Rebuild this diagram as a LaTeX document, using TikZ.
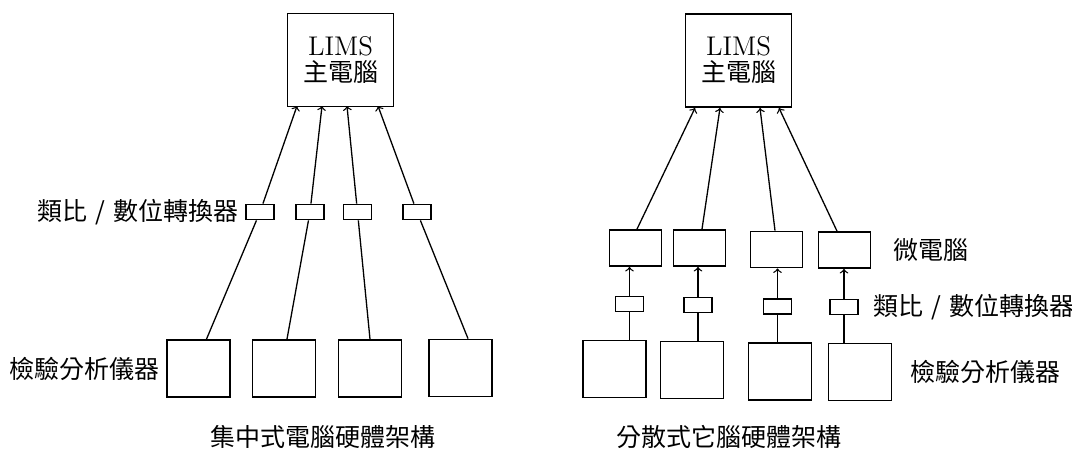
\documentclass[tikz,border=0pt]{standalone}
\usepackage{fontspec}
\newfontfamily\cjk{Noto Sans CJK TC}
\usepackage{tikz}
\usetikzlibrary{positioning}

\tikzset{
	box/.style={draw, line width=0.9pt, inner sep=0pt},
	host/.style={box, minimum width=53pt, minimum height=46.5pt, align=center},
	inst/.style={box, minimum width=31.5pt, minimum height=28.5pt},
	micro/.style={box, minimum width=26pt, minimum height=18pt},
	adc/.style={box, minimum width=14pt, minimum height=7.5pt},
	lbl/.style={font=\cjk\fontsize{12.5pt}{14pt}\selectfont, inner sep=2pt},
	link/.style={line width=0.65pt},
	>=to
}

\begin{document}
\begin{tikzpicture}[x=0.5pt,y=-0.5pt]
	\newcommand{\hosttext}{{\fontsize{13.5pt}{15pt}\selectfont LIMS}\\[1pt]{\cjk\fontsize{12.5pt}{14pt}\selectfont 主電腦}}
	\newcommand{\adctext}{類比\hspace{4pt}/\hspace{4pt}數位轉換器}

	\useasboundingbox (0,0) rectangle (1072,450);

	% centralised layout
	\node[host] (hostL) at (340.5,60) {\hosttext};
	\node[inst] (instL1) at (198.5,368.5) {};
	\node[inst] (instL2) at (284,368.5) {};
	\node[inst] (instL3) at (370,368.5) {};
	\node[inst] (instL4) at (460.5,368) {};
	\node[adc] (adcL1) at (260,212) {};
	\node[adc] (adcL2) at (310,212) {};
	\node[adc] (adcL3) at (357.5,212) {};
	\node[adc] (adcL4) at (417,212) {};
	\coordinate (inL1) at (297,106);
	\coordinate (inL2) at (322,106);
	\coordinate (inL3) at (347,106);
	\coordinate (inL4) at (378,106);

	\draw[link] ([xshift=4pt]instL1.north) -- (adcL1);
	\draw[link] ([xshift=1.5pt]instL2.north) -- (adcL2);
	\draw[link] (instL3.north) -- (adcL3);
	\draw[link] ([xshift=3.75pt]instL4.north) -- (adcL4);
	\draw[link,->] (adcL1) -- (inL1);
	\draw[link,->] (adcL2) -- (inL2);
	\draw[link,->] (adcL3) -- (inL3);
	\draw[link,->] (adcL4) -- (inL4);

	\node[lbl, anchor=east] (adcLlabel) at ([xshift=-1pt]adcL1.west) {\adctext};
	\node[lbl, anchor=east] (instLlabel) at ([xshift=-1pt]instL1.west) {檢驗分析儀器};
	\node[lbl] (capL) at (323,437) {集中式電腦硬體架構};

	% distributed layout
	\node[host] (hostR) at (738.5,60.5) {\hosttext};
	\node[micro] (microR1) at (635.5,248) {};
	\node[micro] (microR2) at (699.5,248) {};
	\node[micro] (microR3) at (776.5,249.5) {};
	\node[micro] (microR4) at (844.5,250) {};
	\node[adc] (adcR1) at (629.5,304) {};
	\node[adc] (adcR2) at (698,305) {};
	\node[adc] (adcR3) at (777.5,306.5) {};
	\node[adc] (adcR4) at (844,307) {};
	\node[inst] (instR1) at (614.5,369) {};
	\node[inst] (instR2) at (692,370) {};
	\node[inst] (instR3) at (780,371.5) {};
	\node[inst] (instR4) at (860,372) {};
	\coordinate (inR1) at (695,108);
	\coordinate (inR2) at (720,108);
	\coordinate (inR3) at (760,108);
	\coordinate (inR4) at (779,108);

	\draw[link] (instR1.north -| adcR1) -- (adcR1);
	\draw[link] (instR2.north -| adcR2) -- (adcR2);
	\draw[link] (instR3.north -| adcR3) -- (adcR3);
	\draw[link] (instR4.north -| adcR4) -- (adcR4);
	\draw[link,->] (adcR1) -- (adcR1 |- microR1.south);
	\draw[link,->] (adcR2) -- (adcR2 |- microR2.south);
	\draw[link,->] (adcR3) -- (adcR3 |- microR3.south);
	\draw[link,->] (adcR4) -- (adcR4 |- microR4.south);
	\draw[link,->] ([xshift=0.75pt]microR1.north) -- (inR1);
	\draw[link,->] ([xshift=1.25pt]microR2.north) -- (inR2);
	\draw[link,->] ([xshift=-0.75pt]microR3.north) -- (inR3);
	\draw[link,->] ([xshift=-3.75pt]microR4.north) -- (inR4);

	\node[lbl, right=9pt of microR4] (microRlabel) {微電腦};
	\node[lbl, right=5pt of adcR4] (adcRlabel) {\adctext};
	\node[lbl, right=7pt of instR4] (instRlabel) {檢驗分析儀器};
	\node[lbl] (capR) at (729,437) {分散式它腦硬體架構};
\end{tikzpicture}
\end{document}
